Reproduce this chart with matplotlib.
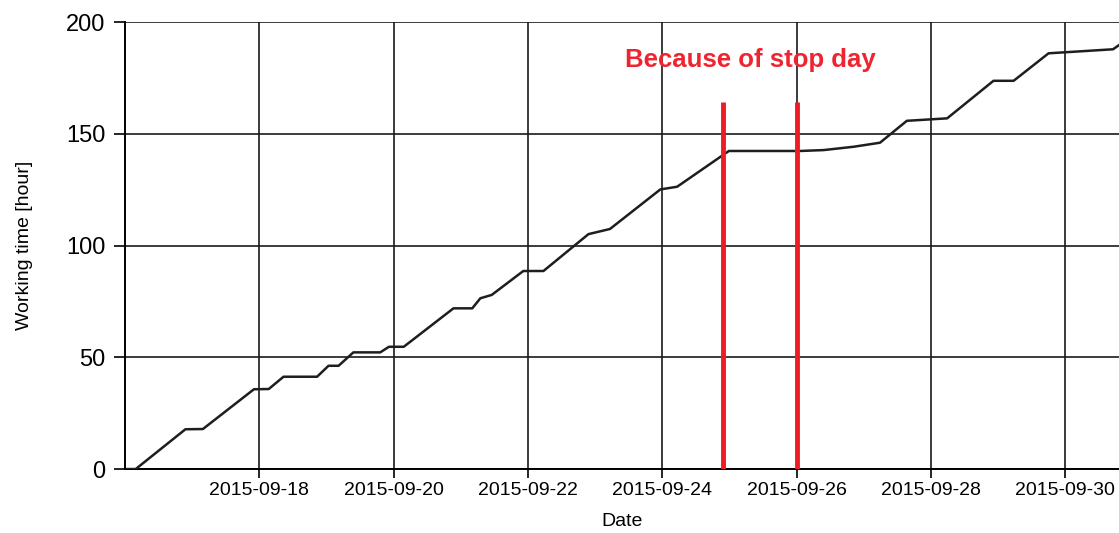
import matplotlib
matplotlib.use("Agg")
import matplotlib.pyplot as plt
import matplotlib.dates as mdates
import pandas as pd

# cumulative working time
times = ["2015-09-16 00:00", "2015-09-16 03:50", "2015-09-16 21:36", "2015-09-17 03:50",
         "2015-09-17 22:05", "2015-09-18 03:22", "2015-09-18 08:38", "2015-09-18 20:38",
         "2015-09-19 00:43", "2015-09-19 04:19", "2015-09-19 09:36", "2015-09-19 19:12",
         "2015-09-19 22:19", "2015-09-20 03:36", "2015-09-20 21:22", "2015-09-21 04:05",
         "2015-09-21 06:58", "2015-09-21 11:02", "2015-09-21 22:19", "2015-09-22 05:31",
         "2015-09-22 21:36", "2015-09-23 05:17", "2015-09-23 23:17", "2015-09-24 05:17",
         "2015-09-24 23:46", "2015-09-26 01:12", "2015-09-26 09:36", "2015-09-26 20:24",
         "2015-09-27 05:46", "2015-09-27 15:22", "2015-09-28 05:46", "2015-09-28 22:19",
         "2015-09-29 05:31", "2015-09-29 18:00", "2015-09-30 17:02", "2015-09-30 19:12"]
hours = [0, 0, 17.8, 17.9, 35.7, 35.8, 41.3, 41.3, 46.2, 46.2, 52.2, 52.2,
         54.7, 54.7, 71.9, 71.9, 76.4, 77.9, 88.6, 88.6, 105.1, 107.4, 125.1, 126.3,
         142.3, 142.3, 142.7, 144.2, 146.0, 155.8, 156.9, 173.7, 173.7, 186.0, 187.8, 189.7]

stop_marks = ["2015-09-24 21:30", "2015-09-26 00:00"]
stop_height = 164
note = "Because of stop day"
note_pos = ("2015-09-23 10:40", 183)

x = pd.to_datetime(times)
fig = plt.figure(figsize=(11.19, 5.33), dpi=100)
ax = fig.add_axes([0.1117, 0.12, 0.8883, 0.8387])

ax.plot(x, hours, color="#1e1e1e", lw=1.8, zorder=3)
ax.vlines(pd.to_datetime(stop_marks), 0, stop_height, color="#ee1c25", lw=3.5, zorder=4)
ax.text(pd.Timestamp(note_pos[0]), note_pos[1], note, color="#ee2530", fontsize=18.5,
        fontweight="bold", family="Liberation Sans", ha="left", va="center")

ax.set_xlim(pd.Timestamp("2015-09-16"), pd.Timestamp("2015-09-30 19:10"))
ax.set_ylim(0, 200)
ax.set_yticks([0, 50, 100, 150, 200])
ax.xaxis.set_major_locator(mdates.DayLocator(bymonthday=range(18, 31, 2)))
ax.xaxis.set_major_formatter(mdates.DateFormatter("%Y-%m-%d"))

ax.grid(True, color="#1a1a1a", lw=1.2)
ax.set_axisbelow(True)
for s in ["top", "right"]:
    ax.spines[s].set_visible(False)
for s in ["left", "bottom"]:
    ax.spines[s].set_linewidth(1.4)
ax.tick_params(axis="y", length=8, width=1.2, labelsize=17, pad=6)
ax.tick_params(axis="x", length=6.5, width=1.2, labelsize=14, pad=3)
for lab in ax.get_xticklabels() + ax.get_yticklabels():
    lab.set_family("Liberation Sans")

ax.set_ylabel("Working time [hour]", fontsize=14, family="Liberation Sans", labelpad=24)
ax.set_xlabel("Date", fontsize=14, family="Liberation Sans", labelpad=10)

fig.savefig("out.png", dpi=100)
